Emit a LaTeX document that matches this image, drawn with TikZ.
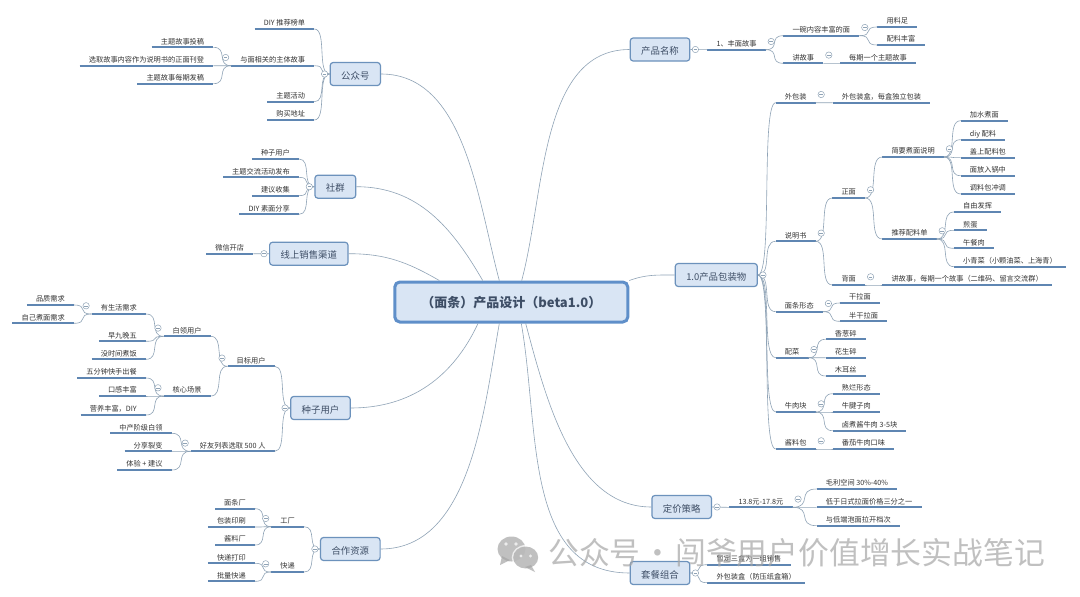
\documentclass[tikz,border=0pt]{standalone}
\usepackage{fontspec}
\setmainfont{Noto Sans CJK SC}
\usepackage{xcolor}
\usetikzlibrary{calc}
\definecolor{boxfill}{HTML}{D9E5F4}
\definecolor{boxline}{HTML}{6C92BC}
\definecolor{mainline}{HTML}{5F8FC9}
\definecolor{underblue}{HTML}{5F86B2}
\definecolor{linkgray}{HTML}{8FA3B6}
\definecolor{titleink}{HTML}{3E4E66}
\definecolor{leafink}{HTML}{333333}
\definecolor{markgray}{HTML}{A6A6A6}
\tikzset{
  mainbox/.style={draw=mainline, line width=3pt, fill=boxfill, rounded corners=5pt,
    minimum width=233pt, minimum height=40pt, text=titleink,
    text height=1em, text depth=0pt,
    font=\fontsize{13}{15}\selectfont\bfseries},
  topic/.style={draw=boxline, line width=1.2pt, fill=boxfill, rounded corners=3pt,
    minimum height=23pt, inner xsep=11pt, inner ysep=0pt, text=titleink,
    text height=1em, text depth=0pt,
    font=\fontsize{9.4}{11}\selectfont},
  leaf/.style={inner xsep=9pt, inner ysep=0pt, minimum height=16pt, text=leafink,
    text height=1em, text depth=0pt,
    font=\fontsize{7.2}{9}\selectfont,
    append after command={(\tikzlastnode.south west) edge[under] (\tikzlastnode.south east)}},
  leafr/.style={leaf, anchor=south west},
  leafl/.style={leaf, anchor=south east},
  under/.style={draw=underblue, line width=1.7pt},
  link/.style={draw=linkgray, line width=.6pt},
  fold/.style={circle, draw=linkgray, fill=white, line width=.5pt, inner sep=0pt,
    minimum size=6.4pt,
    path picture={\draw[linkgray, line width=.5pt]
      ([xshift=1.4pt]path picture bounding box.west) --
      ([xshift=-1.4pt]path picture bounding box.east);}},
}
\newcommand{\branch}[2]{\draw[link] (#1) .. controls ($(#1)!.85!(#1 -| #2)$)
  and ($(#2)!.85!(#1 |- #2)$) .. (#2);}
\begin{document}
\begin{tikzpicture}[x=1pt, y=-1pt]
  \useasboundingbox (0,0) rectangle (1080,597);
  \fill[white] (0,0) rectangle (1080,597);

  % Centre and the main topics
  \node[mainbox] (main) at (511.3,302) {（面条）产品设计（beta1.0）};
  \node[topic] (prod) at (660,49.5) {产品名称};
  \node[topic] (pack) at (716.3,275) {1.0产品包装物};
  \node[topic] (price) at (681.7,507) {定价策略};
  \node[topic] (combo) at (660,573) {套餐组合};
  \node[topic] (gzh) at (355.3,74) {公众号};
  \node[topic] (qun) at (335.3,186.7) {社群};
  \node[topic] (online) at (308.8,253.7) {线上销售渠道};
  \node[topic] (seed) at (320.5,408) {种子用户};
  \node[topic] (coop) at (350.3,549) {合作资源};

  % Product name
  \node[leafr] (story) at (707.3,49.7) {1、丰面故事};
  \node[leafr] (bowl) at (783.3,35.7) {一碗内容丰富的面};
  \node[leafr] (tell) at (783.3,63.3) {讲故事};
  \node[leafr] (enough) at (877.3,27) {用料足};
  \node[leafr] (rich) at (877.3,45) {配料丰富};
  \node[leafr] (issue) at (840,63.3) {每期一个主题故事};

  % Packaging, first level
  \node[leafr] (outer) at (775.7,102.7) {外包装};
  \node[leafr] (manual) at (775.7,241.3) {说明书};
  \node[leafr] (form) at (775.7,311.7) {面条形态};
  \node[leafr] (veg) at (775.7,357.7) {配菜};
  \node[leafr] (beef) at (775.7,412) {牛肉块};
  \node[leafr] (sauce) at (775.7,449) {酱料包};

  % Packaging, further levels
  \node[leafr] (box) at (832.7,102.7) {外包装盒，每盒独立包装};
  \node[leafr] (front) at (832.3,198) {正面};
  \node[leafr] (back) at (832.3,285) {背面};
  \node[leafr] (backtext) at (882.3,285) {讲故事，每期一个故事（二维码、留言交流群）};
  \node[leafr] (brief) at (882.3,157) {简要煮面说明};
  \node[leafr] (recipe) at (882.3,239) {推荐配料单};
  \node[leafr] (water) at (960.7,120.7) {加水煮面};
  \node[leafr] (diy) at (960.7,139.7) {diy 配料};
  \node[leafr] (lid) at (960.7,157.7) {盖上配料包};
  \node[leafr] (pot) at (960.7,175.7) {面放入锅中};
  \node[leafr] (mix) at (960.7,194) {调料包冲调};
  \node[leafr] (free) at (954,212) {自由发挥};
  \node[leafr] (egg) at (954,230.3) {煎蛋};
  \node[leafr] (ham) at (954,248.3) {午餐肉};
  \node[leafr] (green) at (954,266.7) {小青菜（小颗油菜、上海青）};
  \node[leafr] (dry) at (840,303) {干拉面};
  \node[leafr] (semi) at (840,321.3) {半干拉面};
  \node[leafr] (onion) at (825.7,339.3) {香葱碎};
  \node[leafr] (nut) at (825.7,357.7) {花生碎};
  \node[leafr] (ear) at (825.7,376) {木耳丝};
  \node[leafr] (soft) at (832.7,393.7) {熟烂形态};
  \node[leafr] (shank) at (832.7,412) {牛腱子肉};
  \node[leafr] (stew) at (832.7,430.7) {卤煮酱牛肉 3-5块};
  \node[leafr] (tomato) at (832.7,449) {番茄牛肉口味};

  % Pricing and sets
  \node[leafr] (range) at (729.3,507.3) {13.8元-17.8元};
  \node[leafr] (margin) at (816.7,489) {毛利空间 30\%-40\%};
  \node[leafr] (lower) at (816.7,507.3) {低于日式拉面价格三分之一};
  \node[leafr] (apart) at (816.7,525.7) {与低端泡面拉开档次};
  \node[leafr] (three) at (707.3,564.7) {暂定三盒为一组销售};
  \node[leafr] (carton) at (707.3,582.7) {外包装盒（防压纸盒箱）};

  % Official account
  \node[leafl] (rank) at (314.3,29) {DIY 推荐榜单};
  \node[leafl] (theme) at (314.3,65.7) {与面相关的主体故事};
  \node[leafl] (event) at (314.3,101.7) {主题活动};
  \node[leafl] (shop) at (314.3,120) {购买地址};
  \node[leafl] (submit) at (213.3,47.3) {主题故事投稿};
  \node[leafl] (pick) at (213.3,65.7) {选取故事内容作为说明书的正面刊登};
  \node[leafl] (post) at (213.3,83.7) {主题故事每期发稿};

  % Group
  \node[leafl] (sowers) at (299,159) {种子用户};
  \node[leafl] (talk) at (299,177.3) {主题交流活动发布};
  \node[leafl] (advice) at (299,195.7) {建议收集};
  \node[leafl] (share) at (299,214.3) {DIY 素面分享};
  \node[leafl] (wechat) at (253.3,253.7) {微信开店};

  % Seed users
  \node[leafl] (goal) at (274.7,366.3) {目标用户};
  \node[leafl] (friends) at (274.7,451.3) {好友列表选取 500 人};
  \node[leafl] (white) at (210.7,336.3) {白领用户};
  \node[leafl] (core) at (210.7,396) {核心场景};
  \node[leafl] (needs) at (146,314) {有生活需求};
  \node[leafl] (nine) at (146,341.3) {早九晚五};
  \node[leafl] (busy) at (146,359.3) {没时间煮饭};
  \node[leafl] (quality) at (74,305) {品质需求};
  \node[leafl] (self) at (74,323.3) {自己煮面需求};
  \node[leafl] (fast) at (146,378) {五分钟快手出餐};
  \node[leafl] (taste) at (146,396) {口感丰富};
  \node[leafl] (food) at (146,415) {营养丰富，DIY};
  \node[leafl] (middle) at (171.7,433.3) {中产阶级白领};
  \node[leafl] (viral) at (171.7,451.3) {分享裂变};
  \node[leafl] (trial) at (171.7,470) {体验 + 建议};

  % Partners
  \node[leafl] (factory) at (304,526.7) {工厂};
  \node[leafl] (express) at (304,572) {快递};
  \node[leafl] (noodle) at (255,508.7) {面条厂};
  \node[leafl] (print) at (255,527) {包装印刷};
  \node[leafl] (paste) at (255,545) {酱料厂};
  \node[leafl] (label) at (255,563.3) {快递打印};
  \node[leafl] (bulk) at (255,581.3) {批量快递};

  % Curves into the centre
  \draw[link] (gzh.east) to[out=0, in=105, looseness=.9] ([xshift=-12pt]main.north);
  \draw[link] (qun.east) to[out=0, in=120] ([xshift=-28.6pt]main.north);
  \draw[link] (online.east) to[out=0, in=150] ([xshift=-72pt]main.north);
  \draw[link] (prod.west) to[out=180, in=75, looseness=.9] ([xshift=10.4pt]main.north);
  \draw[link] (pack.west) to[out=180, in=20] (main.north east);
  \draw[link] (seed.east) to[out=0, in=-115] ([xshift=-33.3pt]main.south);
  \draw[link] (coop.east) to[out=0, in=-100, looseness=.9] ([xshift=-12pt]main.south);
  \draw[link] (combo.west) to[out=180, in=-80] ([xshift=10pt]main.south);
  \draw[link] (price.west) to[out=180, in=-75, looseness=.9] ([xshift=14.4pt]main.south);

  % Branches, right side
  \branch{prod.east}{story.south west}
  \foreach \kid in {bowl,tell} {\branch{story.south east}{\kid.south west}}
  \foreach \kid in {enough,rich} {\branch{bowl.south east}{\kid.south west}}
  \branch{tell.south east}{issue.south west}
  \foreach \kid in {outer,manual,form,veg,beef,sauce} {\branch{pack.east}{\kid.south west}}
  \branch{outer.south east}{box.south west}
  \foreach \kid in {front,back} {\branch{manual.south east}{\kid.south west}}
  \branch{back.south east}{backtext.south west}
  \foreach \kid in {brief,recipe} {\branch{front.south east}{\kid.south west}}
  \foreach \kid in {water,diy,lid,pot,mix} {\branch{brief.south east}{\kid.south west}}
  \foreach \kid in {free,egg,ham,green} {\branch{recipe.south east}{\kid.south west}}
  \foreach \kid in {dry,semi} {\branch{form.south east}{\kid.south west}}
  \foreach \kid in {onion,nut,ear} {\branch{veg.south east}{\kid.south west}}
  \foreach \kid in {soft,shank,stew} {\branch{beef.south east}{\kid.south west}}
  \branch{sauce.south east}{tomato.south west}
  \branch{price.east}{range.south west}
  \foreach \kid in {margin,lower,apart} {\branch{range.south east}{\kid.south west}}
  \foreach \kid in {three,carton} {\branch{combo.east}{\kid.south west}}

  % Branches, left side
  \foreach \kid in {rank,theme,event,shop} {\branch{gzh.west}{\kid.south east}}
  \foreach \kid in {submit,pick,post} {\branch{theme.south west}{\kid.south east}}
  \foreach \kid in {sowers,talk,advice,share} {\branch{qun.west}{\kid.south east}}
  \branch{online.west}{wechat.south east}
  \foreach \kid in {goal,friends} {\branch{seed.west}{\kid.south east}}
  \foreach \kid in {white,core} {\branch{goal.south west}{\kid.south east}}
  \foreach \kid in {needs,nine,busy} {\branch{white.south west}{\kid.south east}}
  \foreach \kid in {quality,self} {\branch{needs.south west}{\kid.south east}}
  \foreach \kid in {fast,taste,food} {\branch{core.south west}{\kid.south east}}
  \foreach \kid in {middle,viral,trial} {\branch{friends.south west}{\kid.south east}}
  \foreach \kid in {factory,express} {\branch{coop.west}{\kid.south east}}
  \foreach \kid in {noodle,print,paste} {\branch{factory.south west}{\kid.south east}}
  \foreach \kid in {label,bulk} {\branch{express.south west}{\kid.south east}}

  % Fold marks
  \foreach \nd in {prod,pack,price,combo}
    \node[fold] (f\nd) at ([xshift=5pt]\nd.east) {};
  \foreach \nd in {story,bowl,tell,outer,manual,front,back,brief,recipe,form,veg,beef,sauce,range}
    \node[fold] (f\nd) at ([xshift=5.5pt]\nd.east) {};
  \foreach \nd in {gzh,qun,online,seed,coop}
    \node[fold] (f\nd) at ([xshift=-5pt]\nd.west) {};
  \foreach \nd in {theme,goal,friends,white,core,needs,factory,express}
    \node[fold] (f\nd) at ([xshift=-5.5pt]\nd.west) {};

  % Watermark
  \begin{scope}[opacity=.7]
    \fill[markgray] (511.5,549) ellipse (14pt and 12.5pt);
    \fill[markgray] (502,556) -- (500,565) -- (510,560) -- cycle;
    \fill[white] (525.7,557.5) ellipse (14pt and 12.5pt);
    \fill[markgray] (525.7,557.5) ellipse (12.5pt and 11pt);
    \fill[markgray] (531,565) -- (535,572) -- (525,567) -- cycle;
    \fill[white] (506,544) circle (1.8pt) (516,544) circle (1.8pt);
    \fill[white] (521,556) circle (1.6pt) (530.5,556) circle (1.6pt);
    \node[anchor=west, inner sep=0pt, text=markgray, font=\fontsize{30.8}{34}\selectfont]
      (mark) at (548,553) {公众号\hspace{2pt}·\hspace{2pt}闯爷用户价值增长实战笔记};
  \end{scope}
\end{tikzpicture}
\end{document}
